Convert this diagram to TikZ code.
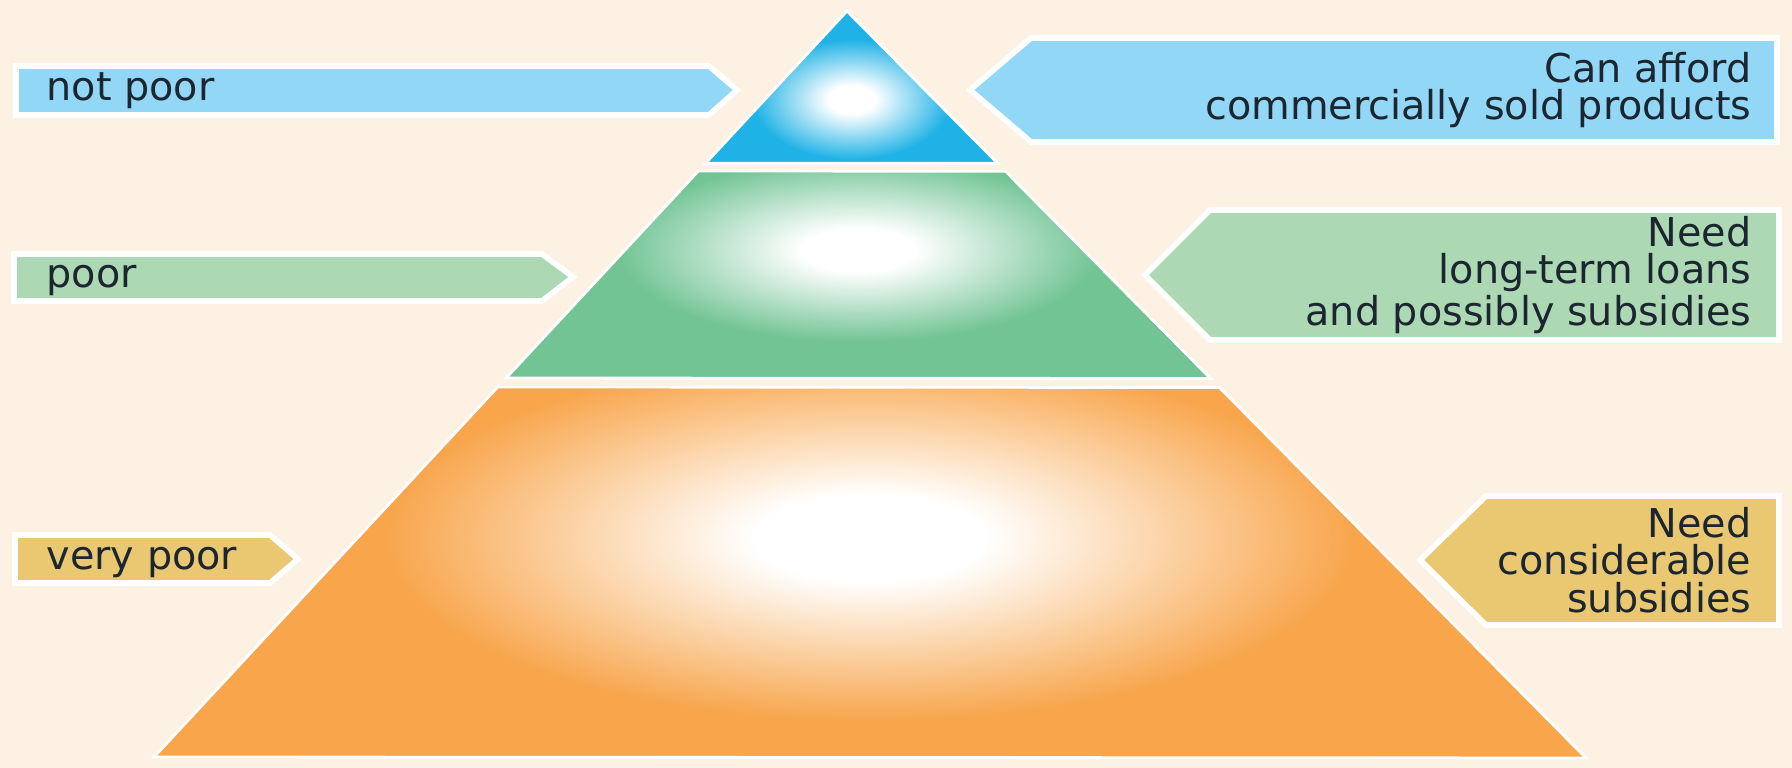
\documentclass[tikz,border=0pt]{standalone}
\usepackage{fontspec}
\setmainfont{DejaVu Sans}
\usetikzlibrary{calc}
\definecolor{bgcream}{HTML}{FDF1E3}
\definecolor{lblblue}{HTML}{93D7F6}
\definecolor{lblgreen}{HTML}{ADD8B4}
\definecolor{lblgold}{HTML}{EAC872}
\definecolor{pyblue}{HTML}{1FB2E6}
\definecolor{pygreen}{HTML}{72C495}
\definecolor{pyorange}{HTML}{F8A54B}
\definecolor{txtdark}{HTML}{1C2630}
\pgfdeclareradialshading{glowblue}{\pgfpoint{0bp}{0bp}}{color(0bp)=(white); color(4bp)=(white); color(17bp)=(pyblue); color(50bp)=(pyblue)}
\pgfdeclareradialshading{glowgreen}{\pgfpoint{0bp}{0bp}}{color(0bp)=(white); color(4bp)=(white); color(17bp)=(pygreen); color(50bp)=(pygreen)}
\pgfdeclareradialshading{gloworange}{\pgfpoint{0bp}{0bp}}{color(0bp)=(white); color(4bp)=(white); color(17bp)=(pyorange); color(50bp)=(pyorange)}
\tikzset{
  band/.style={fill=#1, draw=white, line width=0.8pt},
  shine/.style={shading=glow#1},
  tag/.style={fill=#1, draw=white, line width=1.6pt, line join=miter},
  ltext/.style={font=\fontsize{11.3}{10.6}\selectfont, text=txtdark, inner sep=0pt, anchor=base west},
  rtext/.style={font=\fontsize{11.3}{10.6}\selectfont, text=txtdark, inner sep=0pt, anchor=east, align=right},
}
\begin{document}
\begin{tikzpicture}

\fill[bgcream] (0,0) rectangle (17.92,7.68);
\useasboundingbox (0,0) rectangle (17.92,7.68);

% --- Pyramid ---
\coordinate (apex) at (8.47,7.57);
\coordinate (bl) at (1.54,0.11);
\coordinate (br) at (15.86,0.10);

% top: not poor
\path[band=pyblue, path picture={\shade[shine=blue] (8.51,6.55) ellipse (1.15 and 0.75);}]
  (apex) -- ($(apex)!0.204!(bl)$) -- ($(apex)!0.204!(br)$) -- cycle;

% middle: poor
\path[band=pygreen, path picture={\shade[shine=green] (8.23,5.18) ellipse (3.1 and 1.35);}]
  ($(apex)!0.2145!(bl)$) -- ($(apex)!0.2145!(br)$) -- ($(apex)!0.492!(br)$) -- ($(apex)!0.492!(bl)$) -- cycle;

% bottom: very poor
\path[band=pyorange, path picture={\shade[shine=orange] (8.70,2.30) ellipse (6.0 and 2.7);}]
  ($(apex)!0.504!(bl)$) -- ($(apex)!0.504!(br)$) -- (br) -- (bl) -- cycle;

% --- Left labels ---
\path[tag=lblblue] (0.16,7.02) -- (7.09,7.02) -- (7.37,6.78) -- (7.09,6.53) -- (0.16,6.53) -- cycle;
\node[ltext] (notpoor) at (0.46,6.67) {not poor};

\path[tag=lblgreen] (0.14,5.14) -- (5.42,5.14) -- (5.73,4.91) -- (5.42,4.67) -- (0.14,4.67) -- cycle;
\node[ltext] (poor) at (0.46,4.80) {poor};

\path[tag=lblgold] (0.15,2.33) -- (2.70,2.33) -- (2.98,2.09) -- (2.70,1.85) -- (0.15,1.85) -- cycle;
\node[ltext] (verypoor) at (0.46,1.98) {very poor};

% --- Right labels ---
\path[tag=lblblue] (10.31,7.30) -- (17.77,7.30) -- (17.77,6.26) -- (10.31,6.26) -- (9.70,6.78) -- cycle;
\node[rtext] (afford) at (17.52,6.78) {Can afford\\commercially sold products};

\path[tag=lblgreen] (12.10,5.58) -- (17.79,5.58) -- (17.79,4.28) -- (12.10,4.28) -- (11.45,4.93) -- cycle;
\node[rtext] (loans) at (17.52,4.93) {Need\\long-term loans\\and possibly subsidies};

\path[tag=lblgold] (14.86,2.72) -- (17.79,2.72) -- (17.79,1.43) -- (14.86,1.43) -- (14.20,2.08) -- cycle;
\node[rtext] (subsidies) at (17.52,2.08) {Need\\considerable\\subsidies};

\end{tikzpicture}
\end{document}
